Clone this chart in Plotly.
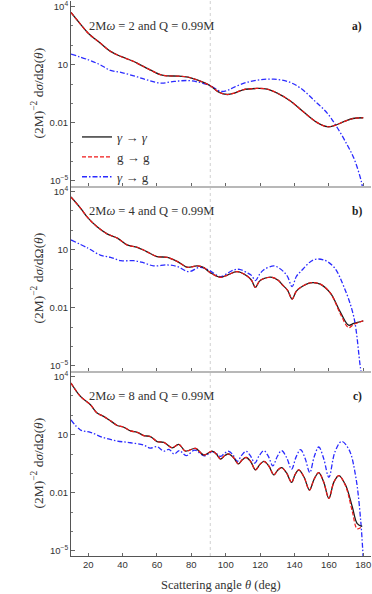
import plotly.graph_objects as go

# ---------------- data ----------------
# panel a : 2Mω = 2
theta_a = [10, 15, 20, 27, 33, 39, 46.5, 50, 56, 62, 66, 72, 78, 83, 91, 96, 101, 105, 110,
           118, 124, 130, 138, 145, 153, 159, 163, 169, 174, 180]
photon_a = [4900, 1380, 417, 129, 47.9, 26.3, 14.5, 10, 5.37, 3.02, 2.63, 2.57, 2.29, 1.66,
            0.813, 0.380, 0.288, 0.339, 0.501, 0.589, 0.550, 0.339, 0.126, 0.038, 0.0105,
            0.0063, 0.0071, 0.0117, 0.0166, 0.0182]
graviton_a = [4900, 1380, 417, 129, 47.9, 26.3, 14.5, 10, 5.37, 3.02, 2.63, 2.57, 2.29, 1.66,
              0.813, 0.380, 0.288, 0.339, 0.501, 0.589, 0.550, 0.339, 0.126, 0.038, 0.0105,
              0.0063, 0.0071, 0.0117, 0.0166, 0.0182]
theta_conv_a = [10, 20, 27, 33, 39, 46.5, 54, 62, 70, 78, 85, 91, 97, 101, 105, 112, 120, 128,
                136, 143.5, 151, 159, 165, 170.6, 174.5, 178.8, 180]
conv_a = [34.7, 17.8, 9.77, 5.01, 3.98, 2.63, 1.66, 1.12, 1.35, 1.51, 1.20, 0.813, 0.417,
          0.468, 0.692, 1.20, 1.66, 1.78, 1.35, 0.617, 0.155, 0.0316, 0.00537, 7.41e-4,
          1.51e-4, 1.0e-5, 2.5e-6]

# panel b : 2Mω = 4
theta_b = [10, 15.5, 20, 25, 31, 37, 42.6, 48.5, 54, 60, 66, 72, 77.6, 83.4, 87.3, 91, 97, 101,
           106.6, 112.4, 115, 117.3, 119.5, 122, 127, 130.5, 132.8, 136, 138.6, 141, 143.5,
           149.3, 155, 161, 166.6, 171.5, 174.5, 180]
photon_b = [5130, 1380, 417, 155, 64.6, 38.9, 17.4, 13.2, 7.94, 4.37, 3.98, 2.40, 1.23, 1.45,
            1.17, 0.646, 0.372, 0.490, 0.724, 0.437, 0.263, 0.112, 0.229, 0.316, 0.372, 0.263,
            0.158, 0.0794, 0.0282, 0.0708, 0.112, 0.195, 0.166, 0.0550, 0.00617, 0.00126,
            0.00155, 0.00214]
graviton_b = [5130, 1380, 417, 155, 64.6, 38.9, 17.4, 13.2, 7.94, 4.37, 3.98, 2.40, 1.23, 1.45,
              1.17, 0.646, 0.372, 0.490, 0.724, 0.437, 0.263, 0.112, 0.229, 0.316, 0.372, 0.263,
              0.158, 0.0794, 0.0282, 0.0708, 0.112, 0.195, 0.166, 0.0550, 0.00501, 9.55e-4,
              0.00138, 0.00214]
theta_conv_b = [10, 20, 27, 33, 39, 46.5, 52, 58, 66, 72, 78.5, 85, 90, 97, 101, 104.7, 108,
                112.4, 115, 117.3, 119.5, 122, 128, 131, 133.7, 136, 138.6, 141, 143.5, 151,
                157, 163, 168.7, 174.5, 178.3, 180]
conv_b = [31.6, 11.7, 5.25, 3.98, 2.69, 2.69, 2.14, 1.45, 1.62, 1.32, 0.724, 1.23, 0.891,
          0.398, 0.603, 0.891, 0.955, 0.646, 0.468, 0.251, 0.501, 0.891, 1.45, 1.12, 0.724,
          0.398, 0.123, 0.398, 0.724, 2.95, 2.95, 1.23, 0.123, 0.00339, 8.91e-6, 1e-6]

# panel c : 2Mω = 8
theta_c = [10, 15.5, 21.3, 25.2, 29, 33, 36.9, 40.7, 44.6, 48.5, 52.3, 56.2, 60.1, 64, 68.9,
           72.7, 76.6, 82.4, 87.2, 92.1, 94.5, 97, 99.4, 101.8, 104.5, 107.3, 109.6, 111.9,
           114.6, 117.3, 119.8, 122.2, 125.1, 128, 130.2, 132.5, 135.4, 138.3, 140.4, 142.5,
           145.6, 148.7, 151.4, 154.1, 157, 160, 162.9, 165.8, 169.7, 173.6, 176.5, 179.4]
photon_c = [4570, 933, 347, 129, 87.1, 51.3, 29.5, 24.0, 15.5, 13.2, 8.91, 7.94, 4.37, 3.98,
            2.09, 3.16, 1.41, 1.95, 0.891, 1.41, 1.0, 0.550, 0.832, 1.0, 0.661, 0.309, 0.501,
            0.661, 0.398, 0.151, 0.282, 0.417, 0.240, 0.0832, 0.145, 0.200, 0.105, 0.0347,
            0.0891, 0.151, 0.0631, 0.0138, 0.0501, 0.110, 0.0355, 0.00513, 0.0355, 0.0776,
            0.0251, 0.00191, 2.57e-4, 1.86e-4]
graviton_c = [4570, 933, 347, 129, 87.1, 51.3, 29.5, 24.0, 15.5, 13.2, 8.91, 7.94, 4.37, 3.98,
              2.09, 3.16, 1.41, 1.95, 0.891, 1.41, 1.0, 0.550, 0.832, 1.0, 0.661, 0.309, 0.501,
              0.661, 0.398, 0.151, 0.282, 0.417, 0.240, 0.0832, 0.145, 0.200, 0.105, 0.0347,
              0.0891, 0.151, 0.0631, 0.0138, 0.0501, 0.110, 0.0355, 0.00513, 0.0355, 0.0776,
              0.0224, 0.00112, 1.41e-4, 1.86e-4]
theta_conv_c = [10, 15.5, 21.3, 29, 36.9, 44.6, 52.3, 56, 60, 64, 67, 70, 73, 77, 82, 87.5, 92,
                94.5, 97, 99.4, 101.8, 104.3, 106.7, 109.3, 111.9, 114.4, 116.9, 119.5, 122.2,
                124.8, 127.4, 130, 132.5, 135.4, 138.3, 140.9, 143.5, 146.2, 148.9, 151.5,
                154.1, 157, 160, 163.5, 167.4, 171.7, 175.6, 178.5, 179.9]
conv_c = [57.5, 17.4, 13.2, 6.92, 4.68, 3.80, 2.88, 2.00, 2.40, 1.41, 1.74, 1.0, 1.51, 0.832,
          1.58, 0.794, 1.32, 1.07, 0.759, 1.12, 1.38, 0.871, 0.417, 0.871, 1.38, 0.794, 0.339,
          0.832, 1.48, 0.759, 0.245, 0.741, 1.48, 0.661, 0.166, 0.692, 1.70, 0.589, 0.110,
          0.741, 2.29, 0.575, 0.0631, 1.26, 4.47, 1.70, 0.0692, 3.80e-4, 5.0e-6]

panel_labels = ["a)", "b)", "c)"]
panel_texts = ["2M<i>ω</i> = 2 and Q = 0.99M",
               "2M<i>ω</i> = 4 and Q = 0.99M",
               "2M<i>ω</i> = 8 and Q = 0.99M"]
series_names = ["<i>γ</i> → <i>γ</i>", "g → g", "<i>γ</i> → g"]
x_tick_vals = [20, 40, 60, 80, 100, 120, 140, 160, 180]
y_tick_vals = [1e-5, 0.01, 10, 1e4]
y_tick_text = ["10<sup>−5</sup>", "0.01", "10", "10<sup>4</sup>"]
y_minor_vals = [1e-4, 1e-3, 0.1, 1, 100, 1000]
ref_angle = 91

panels = [
    (theta_a, photon_a, graviton_a, theta_conv_a, conv_a),
    (theta_b, photon_b, graviton_b, theta_conv_b, conv_b),
    (theta_c, photon_c, graviton_c, theta_conv_c, conv_c),
]

# ---------------- styling ----------------
SERIF = "Liberation Serif"
SANS = "Liberation Sans"
black_line = dict(color="#1c1c1c", width=1.3)
red_line = dict(color="#f01818", width=1.2, dash="4px,2px")
blue_line = dict(color="#2b2bff", width=1.3, dash="5px,2px,1.5px,2px")

XR = [10, 184.5]
YR = [-5.26, 4.28]
domains = [[2 / 3, 1.0], [1 / 3, 2 / 3], [0.0, 1 / 3]]

fig = go.Figure()

for i, (th, ph, gr, thc, cv) in enumerate(panels):
    sfx = "" if i == 0 else str(i + 1)
    xa, ya = "x" + sfx, "y" + sfx
    first = i == 0
    fig.add_trace(go.Scatter(x=thc, y=cv, mode="lines", line=blue_line, line_shape="spline",
                             name=series_names[2], legendrank=3, showlegend=first,
                             xaxis=xa, yaxis=ya, hoverinfo="skip"))
    fig.add_trace(go.Scatter(x=th, y=ph, mode="lines", line=black_line, line_shape="spline",
                             name=series_names[0], legendrank=1, showlegend=first,
                             xaxis=xa, yaxis=ya, hoverinfo="skip"))
    fig.add_trace(go.Scatter(x=th, y=gr, mode="lines", line=red_line, line_shape="spline",
                             name=series_names[1], legendrank=2, showlegend=first,
                             xaxis=xa, yaxis=ya, hoverinfo="skip"))

layout = dict(
    width=372, height=594,
    margin=dict(l=71, r=1, t=1, b=38),
    paper_bgcolor="white", plot_bgcolor="white",
    showlegend=True,
    legend=dict(x=0.02, y=0.782, xanchor="left", yanchor="top",
                bgcolor="rgba(0,0,0,0)", font=dict(family=SERIF, size=13, color="#333"),
                tracegroupgap=0, itemwidth=30),
    font=dict(family=SANS, color="#333"),
)

for i in range(3):
    n = i + 1
    xk = "xaxis" if n == 1 else f"xaxis{n}"
    yk = "yaxis" if n == 1 else f"yaxis{n}"
    xr = "x" if n == 1 else f"x{n}"
    yr = "y" if n == 1 else f"y{n}"
    last = n == 3
    layout[xk] = dict(
        range=XR, domain=[0, 1], anchor=yr, showgrid=False, zeroline=False,
        showline=True, linecolor="#555" if last else "#b8b8b8", linewidth=1 if last else 2,
        ticks="inside", ticklen=3, tickcolor="#666", tickwidth=1,
        tickvals=x_tick_vals, showticklabels=last,
        tickfont=dict(family=SANS, size=9.5, color="#333"),
    )
    layout[yk] = dict(
        type="log", range=YR, domain=domains[i], anchor=xr, showgrid=False, zeroline=False,
        showline=True, linecolor="#555", linewidth=1,
        ticks="inside", ticklen=4, tickcolor="#666",
        tickvals=y_tick_vals, ticktext=y_tick_text, ticklabeloverflow="allow",
        tickfont=dict(family=SANS, size=9.5, color="#333"),
        minor=dict(tickvals=y_minor_vals, ticks="inside", ticklen=2, tickcolor="#777"),
    )
    # top ticks
    layout[f"xaxis{n + 3}"] = dict(
        overlaying=xr, anchor=yr, side="top", range=XR, showgrid=False, zeroline=False,
        showline=False, ticks="inside", ticklen=3, tickcolor="#777",
        tickmode="linear", tick0=0, dtick=50, showticklabels=False,
        minor=dict(dtick=10, tick0=0, ticks="inside", ticklen=2, tickcolor="#888"),
    )
    # right ticks
    layout[f"yaxis{n + 3}"] = dict(
        overlaying=yr, anchor=xr, side="right", type="log", range=YR, showgrid=False,
        zeroline=False, showline=True, linecolor="#999", linewidth=1,
        ticks="inside", ticklen=2, tickcolor="#888",
        tickmode="linear", tick0=3.56, dtick=0.43, showticklabels=False,
    )

fig.update_layout(**layout)

annotations = []
for i in range(3):
    n = i + 1
    yr = "y" if n == 1 else f"y{n}"
    annotations.append(dict(
        text=panel_texts[i], xref="paper", yref=f"{yr} domain", x=0.053, y=0.863,
        xanchor="left", yanchor="middle", showarrow=False,
        font=dict(family=SERIF, size=12.5, color="#333")))
    annotations.append(dict(
        text="<b>" + panel_labels[i] + "</b>", xref="paper", yref=f"{yr} domain",
        x=0.977, y=0.863, xanchor="right", yanchor="middle", showarrow=False,
        font=dict(family=SERIF, size=11.5, color="#222")))
    annotations.append(dict(
        text="(2M)<sup>−2</sup> d<i>σ</i>/dΩ(<i>θ</i>)", xref="paper", yref=f"{yr} domain",
        x=-0.11, y=0.5, xanchor="center", yanchor="middle", textangle=-90, showarrow=False,
        font=dict(family=SERIF, size=13.5, color="#333")))
annotations.append(dict(
    text="Scattering angle <i>θ</i> (deg)", xref="paper", yref="paper", x=0.5, y=-0.052,
    xanchor="center", yanchor="middle", showarrow=False,
    font=dict(family=SERIF, size=12.5, color="#333")))
fig.update_layout(annotations=annotations)

fig.add_shape(type="line", xref="x", yref="paper", x0=ref_angle, x1=ref_angle, y0=0, y1=1,
              line=dict(color="#d0d0d0", width=1, dash="3px,3px"), layer="below")

fig.write_html("out.html", config={"displayModeBar": False},
               post_script="document.body.style.margin='0';document.body.style.overflow='hidden';")
